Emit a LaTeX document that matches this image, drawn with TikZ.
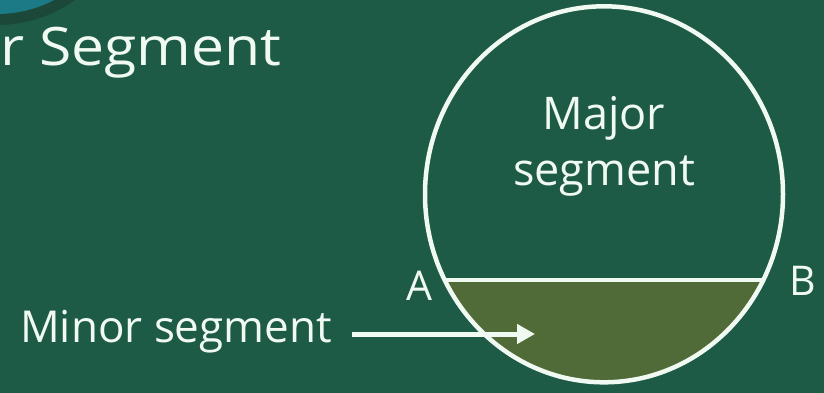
\documentclass[tikz,border=0pt]{standalone}
\usepackage{fontspec}
\usepackage{graphicx}
\setmainfont{Open Sans}
\usetikzlibrary{arrows.meta}
\definecolor{bg}{RGB}{30,91,70}
\definecolor{minorfill}{RGB}{80,107,55}
\definecolor{tealc}{RGB}{27,122,134}
\definecolor{darkrim}{RGB}{28,72,58}
\definecolor{txt}{RGB}{240,250,242}
\tikzset{
  lbl/.style={text=txt, inner sep=0pt, font=\fontsize{42}{55}\selectfont},
  wline/.style={draw=txt, line width=4.5pt},
}
\begin{document}
\begin{tikzpicture}[x=1pt,y=-1pt]
\fill[bg] (0,0) rectangle (824,393);
\useasboundingbox (0,0) rectangle (824,393);
% top-left decoration
\fill[darkrim] (-2.7,-108) circle (133);
\fill[tealc] (-2.7,-108) circle (122);
% minor segment fill
\begin{scope}
  \clip (0,280) rectangle (824,393);
  \fill[minorfill] (604,194.3) ellipse [x radius=179, y radius=188];
\end{scope}
% circle
\draw[wline] (604,194.3) ellipse [x radius=179, y radius=188];
% chord
\coordinate (pA) at (445,280);
\coordinate (pB) at (763,280);
\draw[wline] (pA) -- (pB);
% texts
\node[lbl, anchor=base west, font=\fontsize{53}{60}\selectfont] (title) at (0,66) {\scalebox{1.11}[1]{r Segment}};
\node[lbl, anchor=base, align=center, font=\fontsize{45}{55}\selectfont] (major) at (604,185) {Major\\segment};
\node[lbl, anchor=base west, font=\fontsize{41}{48}\selectfont] (la) at (406,300) {A};
\node[lbl, anchor=base west, font=\fontsize{41}{48}\selectfont] (lb) at (789,295) {B};
\node[lbl, anchor=base west, font=\fontsize{44}{50}\selectfont] (minor) at (20,342) {Minor segment};
\coordinate (tip) at (535,334);
\draw[draw=txt, line width=5pt, -{Triangle[length=18pt,width=19pt]}] (352,334) -- (tip);
\end{tikzpicture}
\end{document}
